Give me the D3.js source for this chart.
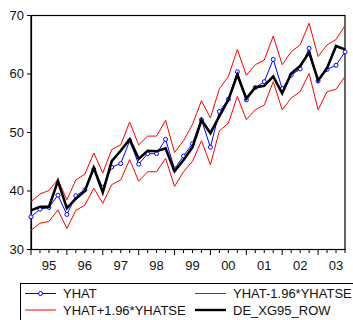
<!DOCTYPE html>
<html>
<head>
<meta charset="utf-8">
<script src="https://cdn.jsdelivr.net/npm/d3@7"></script>
<style>
  body { margin: 0; background: #fff; }
  svg { display: block; font-family: Arial, "Liberation Sans", sans-serif; }
</style>
</head>
<body>
<div id="chart"></div>
<script>
// quarterly data 1995Q1 - 2003Q4
var years = ["95", "96", "97", "98", "99", "00", "01", "02", "03"];
var yTicks = [30, 40, 50, 60, 70];

var actual = [36.6, 37.2, 37.2, 41.6, 37.0, 38.6, 39.9, 43.9, 39.7, 45.0, 46.8, 48.75,
              45.4, 46.8, 46.7, 47.2, 43.3, 45.2, 47.4, 52.05, 49.8, 52.7, 55.5, 59.8,
              55.7, 57.6, 57.9, 59.5, 56.6, 60.0, 61.3, 63.6, 58.8, 60.9, 64.7, 64.1];
var yhat = [35.5, 36.8, 37.1, 39.2, 35.9, 39.1, 40.1, 43.6, 40.5, 44.0, 44.6, 48.5,
            44.5, 46.3, 46.3, 48.75, 43.7, 45.9, 48.0, 52.1, 47.4, 53.5, 55.6, 60.3,
            55.5, 57.6, 58.6, 62.4, 57.4, 59.7, 60.8, 64.3, 58.7, 60.7, 61.4, 63.7];
var upper = [38.1, 39.4, 40.0, 41.9, 38.4, 41.8, 42.8, 46.4, 43.0, 47.0, 47.8, 51.7,
             47.8, 49.3, 49.3, 52.0, 46.5, 48.5, 51.3, 55.35, 52.4, 57.4, 59.5, 64.1,
             59.7, 61.5, 62.3, 66.4, 61.5, 63.7, 64.9, 68.6, 62.9, 64.9, 65.8, 68.2];
var lower = [33.2, 34.4, 34.7, 36.7, 33.5, 36.6, 37.5, 40.4, 37.8, 41.0, 41.8, 45.3,
             41.6, 43.2, 43.2, 45.5, 40.7, 43.2, 45.0, 48.5, 44.4, 50.2, 51.5, 56.1,
             52.1, 53.8, 54.6, 58.6, 53.8, 55.8, 56.9, 60.0, 53.8, 56.9, 57.3, 59.5];

var W = 353, H = 320;
var plotL = 31, plotR = 345, plotT = 15, plotB = 249;

var svg = d3.select("#chart").append("svg")
    .attr("width", W)
    .attr("height", H);

var x = d3.scaleLinear().domain([0, actual.length - 1]).range([plotL, plotR]);
var y = d3.scaleLinear().domain([30, 70]).range([plotB, plotT]);

// frame
svg.append("rect")
    .attr("x", plotL).attr("y", plotT + 0.5)
    .attr("width", plotR - plotL).attr("height", plotB - plotT)
    .attr("fill", "none").attr("stroke", "#000").attr("stroke-width", 1.2);

// y axis
var yAxis = svg.append("g")
    .attr("transform", "translate(" + plotL + ",0)")
    .call(d3.axisLeft(y).tickValues(yTicks).tickSize(4).tickPadding(3));
yAxis.select(".domain").attr("stroke-width", 1.2);
yAxis.selectAll("text").style("font-size", "13px").attr("fill", "#111");

// x axis: quarter ticks, longer at year start
var xg = svg.append("g");
xg.append("line")
    .attr("x1", plotL).attr("x2", plotR)
    .attr("y1", plotB + 0.5).attr("y2", plotB + 0.5)
    .attr("stroke", "#000").attr("stroke-width", 1.2);
xg.selectAll("line.tick")
  .data(d3.range(actual.length))
  .enter().append("line")
    .attr("class", "tick")
    .attr("x1", function(d) { return x(d); })
    .attr("x2", function(d) { return x(d); })
    .attr("y1", plotB)
    .attr("y2", function(d) { return d % 4 == 0 ? plotB + 6 : plotB + 4; })
    .attr("stroke", "#000");
xg.selectAll("text")
  .data(years)
  .enter().append("text")
    .attr("x", function(d, i) { return x(i * 4 + 2); })
    .attr("y", plotB + 21)
    .attr("text-anchor", "middle")
    .style("font-size", "13px")
    .attr("fill", "#111")
    .text(function(d) { return d; });

var line = d3.line()
    .x(function(d, i) { return x(i); })
    .y(function(d) { return y(d); });

svg.append("path").datum(lower)
    .attr("d", line).attr("fill", "none").attr("stroke", "#ff0000").attr("stroke-width", 1);
svg.append("path").datum(upper)
    .attr("d", line).attr("fill", "none").attr("stroke", "#ff0000").attr("stroke-width", 1);
svg.append("path").datum(yhat)
    .attr("d", line).attr("fill", "none").attr("stroke", "#0000ff").attr("stroke-width", 1);
svg.selectAll("circle.yhat")
  .data(yhat)
  .enter().append("circle")
    .attr("class", "yhat")
    .attr("cx", function(d, i) { return x(i); })
    .attr("cy", function(d) { return y(d); })
    .attr("r", 2)
    .attr("fill", "#fff")
    .attr("stroke", "#0000ff")
    .attr("stroke-width", 1);
svg.append("path").datum(actual)
    .attr("d", line).attr("fill", "none").attr("stroke", "#000").attr("stroke-width", 2.6)
    .attr("stroke-linejoin", "miter");

// legend
var legend = svg.append("g");
legend.append("rect")
    .attr("x", 20.5).attr("y", 283.5)
    .attr("width", 350).attr("height", 60)
    .attr("fill", "none").attr("stroke", "#000");

var items = [
  {name: "YHAT", color: "#0000ff", w: 1, dot: true, col: 0, row: 0},
  {name: "YHAT-1.96*YHATSE", color: "#ff0000", w: 1, dot: false, col: 1, row: 0},
  {name: "YHAT+1.96*YHATSE", color: "#ff0000", w: 1, dot: false, col: 0, row: 1},
  {name: "DE_XG95_ROW", color: "#000", w: 2.4, dot: false, col: 1, row: 1}
];
var colX = [25, 195], rowY = [293.5, 310];

items.forEach(function(it) {
  var lx = colX[it.col], ly = rowY[it.row];
  legend.append("line")
      .attr("x1", lx).attr("x2", lx + 31)
      .attr("y1", ly).attr("y2", ly)
      .attr("stroke", it.color).attr("stroke-width", it.w);
  if (it.dot) {
    legend.append("circle")
        .attr("cx", lx + 15.5).attr("cy", ly).attr("r", 2)
        .attr("fill", "#fff").attr("stroke", it.color);
  }
  legend.append("text")
      .attr("x", lx + 38).attr("y", ly + 4.5)
      .style("font-size", "13px")
      .attr("fill", "#111")
      .text(it.name);
});
</script>
</body>
</html>
